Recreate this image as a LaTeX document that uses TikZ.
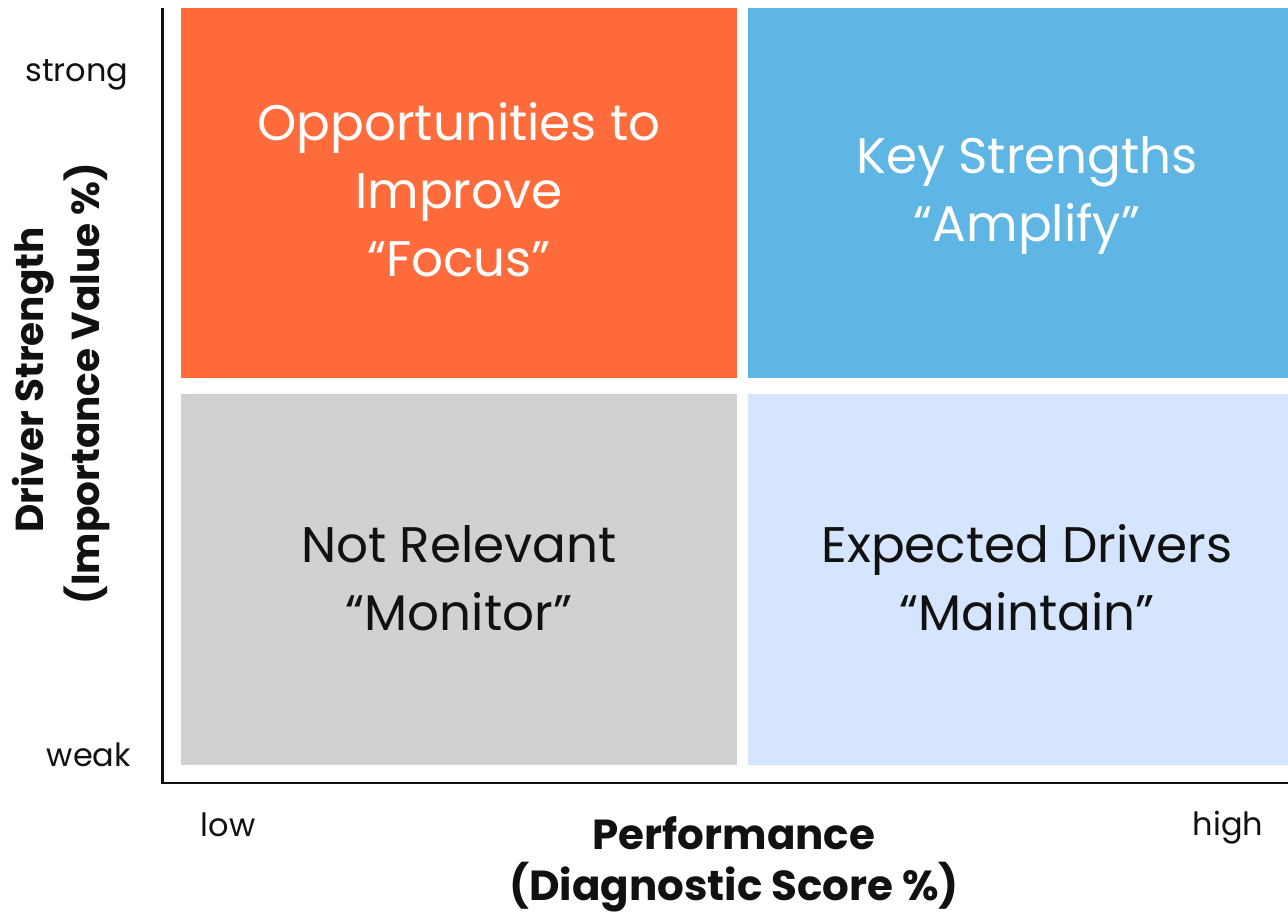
\documentclass[tikz,border=0pt]{standalone}
\usepackage{fontspec}
\setmainfont{Poppins}
\definecolor{qorange}{HTML}{FF6B3B}
\definecolor{qblue}{HTML}{5FB5E4}
\definecolor{qgray}{HTML}{D0D2CF}
\definecolor{qlight}{HTML}{D5E5FD}
\definecolor{ink}{HTML}{111111}
\begin{document}
\begin{tikzpicture}[x=1pt,y=-1pt,
  qtext/.style={anchor=base,font=\fontsize{50}{60}\selectfont,inner sep=0pt},
  ticklab/.style={anchor=base,font=\fontsize{32}{38}\selectfont,text=ink,inner sep=0pt},
  axtitle/.style={anchor=base,font=\bfseries\fontsize{42}{50}\selectfont,text=ink,inner sep=0pt},
  ytitle/.style={anchor=base,rotate=90,font=\bfseries\fontsize{39}{47}\selectfont,text=ink,inner sep=0pt},
  axisline/.style={draw=ink,line width=2.5pt}]
\useasboundingbox (0,0) rectangle (1288,916);
% quadrants
\fill[qorange] (181,8) rectangle (737,378);
\fill[qblue] (748,8) rectangle (1288,378);
\fill[qgray] (181,394) rectangle (737,765);
\fill[qlight] (748,394) rectangle (1288,765);
% axes
\coordinate (top) at (162.5,8);
\coordinate (origin) at (162.5,783);
\coordinate (right) at (1288,783);
\draw[axisline] (top) -- (origin) -- (right);
% quadrant texts
\node[qtext,text=white] (q1a) at (459,140) {Opportunities to};
\node[qtext,text=white] (q1b) at (459,208) {Improve};
\node[qtext,text=white] (q1c) at (459,276) {“Focus”};
\node[qtext,text=white] (q2a) at (1027,173) {Key Strengths};
\node[qtext,text=white] (q2b) at (1027,241) {“Amplify”};
\node[qtext,text=ink] (q3a) at (459,562) {Not Relevant};
\node[qtext,text=ink] (q3b) at (459,630) {“Monitor”};
\node[qtext,text=ink] (q4a) at (1027,562) {Expected Drivers};
\node[qtext,text=ink] (q4b) at (1027,630) {“Maintain”};
% tick labels
\node[ticklab] (strong) at (77,81) {strong};
\node[ticklab] (weak) at (89,766) {weak};
\node[ticklab] (low) at (228,836) {low};
\node[ticklab] (high) at (1228,835) {high};
% axis titles
\node[axtitle] (xt1) at (734,849) {Performance};
\node[axtitle] (xt2) at (734,900) {(Diagnostic Score \%)};
\node[ytitle] (yt1) at (43,380) {Driver Strength};
\node[ytitle] (yt2) at (99,383.5) {(Importance Value \%)};
\end{tikzpicture}
\end{document}
